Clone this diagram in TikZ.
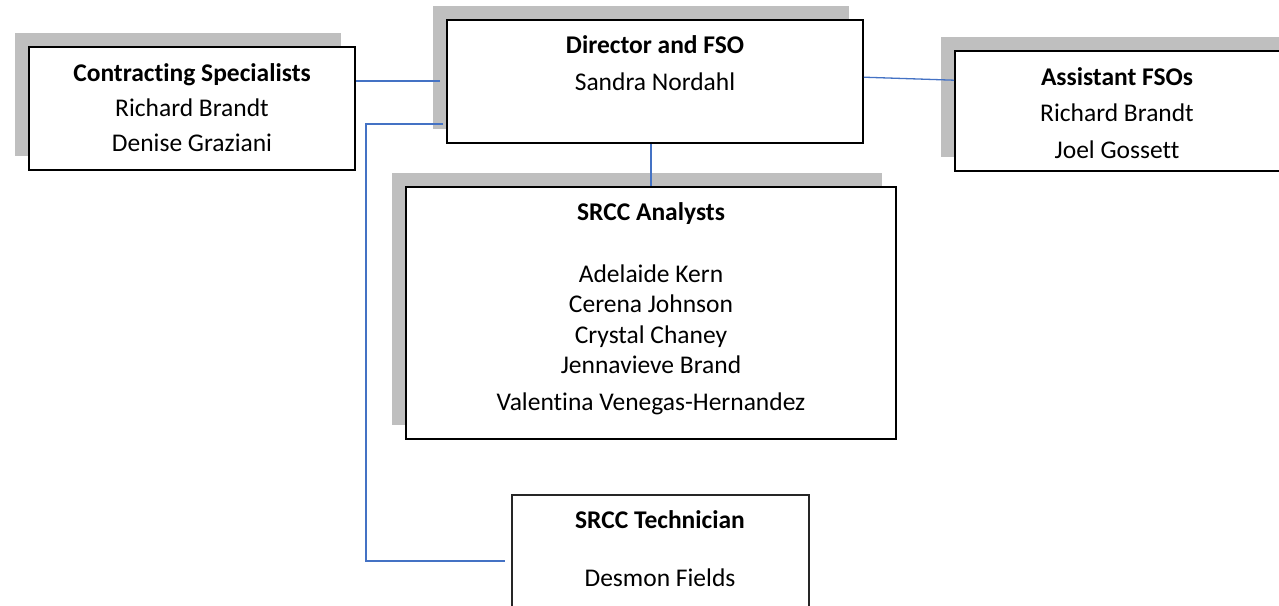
\documentclass[tikz,border=0pt]{standalone}
\usepackage{fontspec}
\setmainfont{Carlito}[Ligatures=NoCommon]
\usetikzlibrary{shadows}
\definecolor{shadowgray}{HTML}{BFBFBF}
\definecolor{linkblue}{HTML}{4472C4}
\tikzset{
  orgbox/.style={draw=black, fill=white, line width=1.6pt, inner sep=0pt,
    general shadow={fill=shadowgray, shadow xshift=-14pt, shadow yshift=14pt}},
  plainbox/.style={draw=black!85, fill=white, line width=1.1pt, inner sep=0pt},
  txt/.style={anchor=base, inner sep=0pt, font=\fontsize{25.5}{30}\selectfont},
  ttl/.style={txt, font=\fontsize{25.5}{30}\selectfont\bfseries},
  conn/.style={draw=linkblue, line width=1.3pt}
}
\begin{document}
\begin{tikzpicture}[x=1pt,y=-1pt]
\path[use as bounding box, clip] (0,0) rectangle (1279,605);
% boxes
\node[orgbox, minimum width=326pt, minimum height=123pt] (cs) at (192,108.5) {};
\node[orgbox, minimum width=416pt, minimum height=123pt] (dir) at (655,81.5) {};
\node[orgbox, minimum width=360pt, minimum height=120pt] (afso) at (1135,111) {};
\node[orgbox, minimum width=490pt, minimum height=252pt] (ana) at (651,313) {};
\node[plainbox, minimum width=297pt, minimum height=160pt] (tech) at (660.5,575) {};
% texts
\node[ttl] (cs1) at (192,81.7) {Contracting Specialists};
\node[txt] (cs2) at (192,116.7) {Richard Brandt};
\node[txt] (cs3) at (192,151.7) {Denise Graziani};
\node[ttl] (dir1) at (655,53.3) {Director and FSO};
\node[txt] (dir2) at (655,90) {Sandra Nordahl};
\node[ttl] (af1) at (1117,85) {Assistant FSOs};
\node[txt] (af2) at (1117,121.7) {Richard Brandt};
\node[txt] (af3) at (1117,158.3) {Joel Gossett};
\node[ttl] (an1) at (651,220) {SRCC Analysts};
\node[txt] (an2) at (651,282.7) {Adelaide Kern};
\node[txt] (an3) at (651,312.7) {Cerena Johnson};
\node[txt] (an4) at (651,343.3) {Crystal Chaney};
\node[txt] (an5) at (651,373.3) {Jennavieve Brand};
\node[txt] (an6) at (651,410) {Valentina Venegas-Hernandez};
\node[ttl] (te1) at (660,528.3) {SRCC Technician};
\node[txt] (te2) at (660,586.7) {Desmon Fields};
% connectors
\coordinate (csend) at (440,81);
\draw[conn] (cs.east |- csend) -- (csend);
\draw[conn] ([yshift=-58pt]dir.north east) -- ([yshift=-30pt]afso.north west);
\draw[conn] (ana.north) -- (ana.north |- dir.south);
\coordinate (tstart) at (443,124);
\coordinate (tend) at (505,561);
\draw[conn] (tstart) -- (366,124) -- (366,561) -- (tend);
\end{tikzpicture}
\end{document}
